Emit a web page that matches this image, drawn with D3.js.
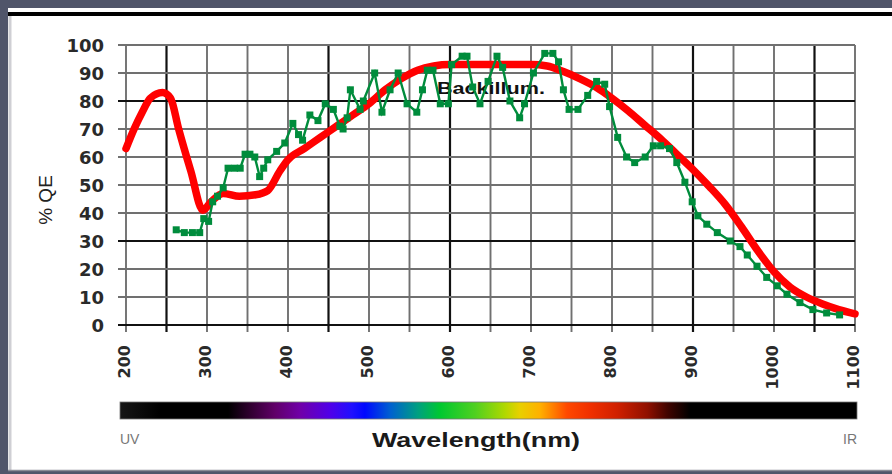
<!DOCTYPE html>
<html>
<head>
<meta charset="utf-8">
<script src="https://cdn.jsdelivr.net/npm/d3@7"></script>
<style>
  html, body { margin: 0; padding: 0; background: #50556a; }
  svg { display: block; }
</style>
</head>
<body>
<div id="chart"></div>
<script>
// wavelength (nm) / quantum efficiency (%)
const backNm = [200, 210, 220, 230, 245, 255, 265, 280, 295, 305, 320, 340, 360, 375, 390, 400, 420, 440, 460, 480, 500, 520, 540, 560, 580, 600, 650, 700, 720, 740, 760, 780, 800, 820, 840, 860, 880, 900, 920, 940, 960, 980, 1000, 1020, 1040, 1060, 1080, 1100];
const backQE = [63, 70, 76, 81, 83, 81, 70, 55, 41, 44, 47, 46, 46.5, 48, 55, 59, 63, 67, 71, 75, 79, 84, 88, 91, 92.5, 93, 93, 93, 92.5, 90.5, 88, 85, 81, 76.5, 71.5, 66.5, 61, 55.5, 49.5, 43, 35, 26.5, 19, 13.5, 10, 7.5, 5.5, 4];

const frontNm = [262, 272, 282, 291, 296, 302, 307, 313, 320, 326, 334, 341, 347, 353, 359, 365, 370, 375, 386, 396, 406, 413, 418, 427, 437, 446, 456, 464, 468, 473, 477, 489, 493, 507, 516, 526, 536, 547, 559, 566, 572, 579, 588, 598, 602, 615, 621, 628, 637, 647, 658, 665, 674, 686, 692, 703, 717, 727, 734, 740, 747, 758, 770, 781, 791, 797, 807, 818, 828, 841, 851, 860, 871, 880, 890, 899, 906, 917, 930, 946, 958, 967, 979, 991, 1004, 1016, 1032, 1048, 1065, 1081];
const frontQE = [34, 33, 33, 33, 38, 37, 44, 46, 49, 56, 56, 56, 61, 61, 60, 53, 56, 59, 62, 65, 72, 68, 66, 75, 73, 79, 77, 71, 70, 74, 84, 77, 80, 90, 76, 84, 90, 79, 76, 84, 91, 91, 79, 79, 93, 96, 96, 85, 79, 87, 96, 92, 80, 74, 79, 90, 97, 97, 94, 84, 77, 77, 82, 87, 86, 78, 67, 60, 58, 60, 64, 64, 63, 58, 51, 44, 39, 36, 33, 30, 28, 25, 21, 17, 14, 11, 8, 5.5, 4.3, 3.6];

const xTicks = [200, 300, 400, 500, 600, 700, 800, 900, 1000, 1100];
const yTicks = [0, 10, 20, 30, 40, 50, 60, 70, 80, 90, 100];

// spectrum bar colours, positioned along the bar's own wavelength span
const specNm = [200, 249, 332, 359, 389, 420, 456, 483, 499, 530, 564, 591, 634, 670, 688, 713, 746, 774, 807, 844, 869, 896, 1100];
const specColor = ["#161616", "#000000", "#000000", "#300030", "#600068", "#7000a8", "#5000e8", "#2010ff", "#0008ff", "#0060d0", "#00a080", "#00c830", "#50d020", "#b0d800", "#e8d000", "#ffb000", "#ff4800", "#f03000", "#d02000", "#901000", "#400400", "#000000", "#000000"];

const W = 892, H = 474;
const svg = d3.select("#chart").append("svg").attr("width", W).attr("height", H);

const x = d3.scaleLinear().domain([200, 1100]).range([126, 855]);
const y = d3.scaleLinear().domain([0, 100]).range([325, 45]);

// frame
svg.append("rect").attr("width", W).attr("height", H).attr("fill", "#50556a");
svg.append("rect").attr("x", 8).attr("y", 8).attr("width", W - 8).attr("height", 462).attr("fill", "#fff");
svg.append("line").attr("x1", 8).attr("x2", W).attr("y1", 14).attr("y2", 14).attr("stroke", "#000").attr("stroke-width", 4);
svg.append("line").attr("x1", 10).attr("x2", 10).attr("y1", 16).attr("y2", 470).attr("stroke", "#cfcfd4").attr("stroke-width", 3);
svg.append("line").attr("x1", 8).attr("x2", W).attr("y1", 470.5).attr("y2", 470.5).attr("stroke", "#8a8c96").attr("stroke-width", 1.5);

// grid (some lines render darker in the original scan)
const darkX = [250, 450, 600, 900, 1050];
const darkY = [0, 30, 80];
const grid = svg.append("g");
grid.selectAll("line.v").data(d3.range(200, 1101, 50)).join("line")
  .attr("class", "v")
  .attr("x1", (d) => x(d)).attr("x2", (d) => x(d))
  .attr("y1", y(100)).attr("y2", y(0) + 7)
  .attr("stroke", (d) => (darkX.includes(d) ? "#111" : "#707070"))
  .attr("stroke-width", (d) => (darkX.includes(d) ? 2.2 : 1.9));
grid.selectAll("line.h").data(yTicks).join("line")
  .attr("class", "h")
  .attr("x1", x(200) - 8).attr("x2", x(1100))
  .attr("y1", (d) => y(d)).attr("y2", (d) => y(d))
  .attr("stroke", (d) => (darkY.includes(d) ? "#111" : "#707070"))
  .attr("stroke-width", (d) => (darkY.includes(d) ? 2.2 : 1.9));

// axes labels
const yAxis = svg.append("g")
  .attr("transform", `translate(${x(200) - 22},0)`)
  .call(d3.axisLeft(y).tickValues(yTicks).tickSize(0).tickPadding(0));
yAxis.select(".domain").remove();
yAxis.selectAll("text")
  .attr("font-family", "DejaVu Sans").attr("font-weight", "bold")
  .attr("font-size", 18).attr("fill", "#2a2a2a").attr("dy", "0.36em");

const xAxis = svg.append("g")
  .attr("transform", `translate(-2,${y(0) + 20})`)
  .call(d3.axisBottom(x).tickValues(xTicks).tickFormat(d3.format("d")).tickSize(0).tickPadding(0));
xAxis.select(".domain").remove();
xAxis.selectAll("text")
  .attr("font-family", "DejaVu Sans").attr("font-weight", "bold")
  .attr("font-size", 16).attr("fill", "#2a2a2a")
  .attr("text-anchor", "end").attr("dy", "0.36em").attr("y", 0)
  .attr("transform", "rotate(-90)");

svg.append("text")
  .attr("transform", `translate(52,200) rotate(-90)`)
  .attr("text-anchor", "middle")
  .attr("font-family", "Liberation Sans").attr("font-size", 19).attr("fill", "#222")
  .text("% QE");

// series label (sits under the green line)
svg.append("text")
  .attr("x", 437).attr("y", 94)
  .attr("font-family", "Liberation Sans").attr("font-weight", "bold")
  .attr("font-size", 17).attr("fill", "#111")
  .attr("textLength", 108).attr("lengthAdjust", "spacingAndGlyphs")
  .text("Backillum.");

// back-illuminated curve
const backData = backNm.map((d, i) => ({ nm: d, qe: backQE[i] }));
svg.append("path")
  .datum(backData)
  .attr("fill", "none").attr("stroke", "#ff0000").attr("stroke-width", 7.5)
  .attr("stroke-linecap", "round").attr("stroke-linejoin", "round")
  .attr("d", d3.line().x((d) => x(d.nm)).y((d) => y(d.qe)).curve(d3.curveMonotoneX));

// front-illuminated curve with markers
const frontData = frontNm.map((d, i) => ({ nm: d, qe: frontQE[i] }));
svg.append("path")
  .datum(frontData)
  .attr("fill", "none").attr("stroke", "#008c3c").attr("stroke-width", 2.4)
  .attr("d", d3.line().x((d) => x(d.nm)).y((d) => y(d.qe)));
svg.selectAll("rect.mk").data(frontData).join("rect")
  .attr("class", "mk")
  .attr("x", (d) => x(d.nm) - 3.5).attr("y", (d) => y(d.qe) - 3.5)
  .attr("width", 7).attr("height", 7)
  .attr("fill", "#008c3c");

// spectrum bar
const grad = svg.append("defs").append("linearGradient").attr("id", "spec");
grad.selectAll("stop").data(specNm).join("stop")
  .attr("offset", (d) => (d - 200) / 900)
  .attr("stop-color", (d, i) => specColor[i]);
const sx = d3.scaleLinear().domain([200, 1100]).range([120, 857]);
svg.append("rect")
  .attr("x", sx(200)).attr("y", 402).attr("width", sx(1100) - sx(200)).attr("height", 17)
  .attr("fill", "url(#spec)").attr("stroke", "#777").attr("stroke-width", 0.8);

svg.append("text").attr("x", 120).attr("y", 444)
  .attr("font-family", "Liberation Sans").attr("font-size", 14).attr("fill", "#777")
  .text("UV");
svg.append("text").attr("x", 857).attr("y", 444).attr("text-anchor", "end")
  .attr("font-family", "Liberation Sans").attr("font-size", 14).attr("fill", "#777")
  .text("IR");
svg.append("text").attr("x", 372).attr("y", 447)
  .attr("font-family", "Liberation Sans").attr("font-weight", "bold")
  .attr("font-size", 20).attr("fill", "#1a1a1a")
  .attr("textLength", 208).attr("lengthAdjust", "spacingAndGlyphs")
  .text("Wavelength(nm)");
</script>
</body>
</html>
